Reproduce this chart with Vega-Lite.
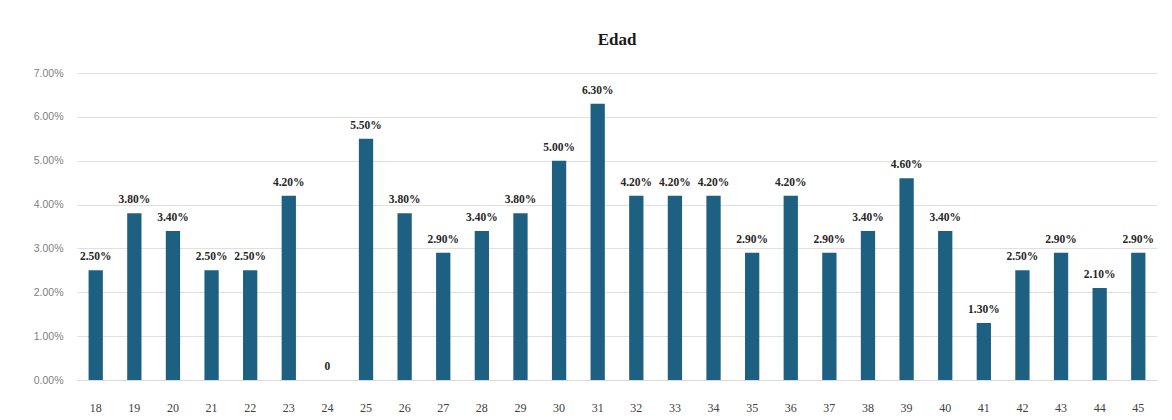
{
  "$schema": "https://vega.github.io/schema/vega-lite/v6.json",
  "autosize": {"type": "none"},
  "padding": {"left": 77, "top": 73, "right": 15, "bottom": 40},
  "width": 1080,
  "height": 307,
  "background": "white",
  "title": {"text": "Edad", "font": "Liberation Serif", "fontSize": 17, "fontWeight": "bold", "color": "#1a1a1a", "offset": 19, "anchor": "middle"},
  "data": {"values": [
    {"edad": "18", "v": 0.025}, {"edad": "19", "v": 0.038}, {"edad": "20", "v": 0.034},
    {"edad": "21", "v": 0.025}, {"edad": "22", "v": 0.025}, {"edad": "23", "v": 0.042},
    {"edad": "24", "v": 0.0}, {"edad": "25", "v": 0.055}, {"edad": "26", "v": 0.038},
    {"edad": "27", "v": 0.029}, {"edad": "28", "v": 0.034}, {"edad": "29", "v": 0.038},
    {"edad": "30", "v": 0.05}, {"edad": "31", "v": 0.063}, {"edad": "32", "v": 0.042},
    {"edad": "33", "v": 0.042}, {"edad": "34", "v": 0.042}, {"edad": "35", "v": 0.029},
    {"edad": "36", "v": 0.042}, {"edad": "37", "v": 0.029}, {"edad": "38", "v": 0.034},
    {"edad": "39", "v": 0.046}, {"edad": "40", "v": 0.034}, {"edad": "41", "v": 0.013},
    {"edad": "42", "v": 0.025}, {"edad": "43", "v": 0.029}, {"edad": "44", "v": 0.021},
    {"edad": "45", "v": 0.029}
  ]},
  "encoding": {
    "x": {"field": "edad", "type": "ordinal", "sort": null,
      "scale": {"paddingInner": 0.63, "paddingOuter": 0.3},
      "axis": {"title": null, "labelAngle": 0, "labelFont": "Liberation Serif", "labelFontSize": 12, "labelColor": "#404040", "labelPadding": 22, "ticks": false, "domain": true, "domainColor": "#d9d9d9", "grid": false}},
    "y": {"field": "v", "type": "quantitative",
      "scale": {"domain": [0, 0.07]},
      "axis": {"title": null, "format": ".2%", "values": [0, 0.01, 0.02, 0.03, 0.04, 0.05, 0.06, 0.07], "labelFont": "Liberation Sans", "labelFontSize": 10.5, "labelColor": "#7f7f7f", "labelPadding": 14, "ticks": false, "domain": false, "grid": true, "gridColor": "#e0e0e0"}}
  },
  "layer": [
    {"mark": {"type": "bar", "color": "#1d6082"}},
    {"mark": {"type": "text", "baseline": "bottom", "dy": -8, "font": "Liberation Serif", "fontSize": 11.5, "fontWeight": "bold", "color": "#262626"},
     "encoding": {"text": {"condition": {"test": "datum.v === 0", "value": "0"}, "field": "v", "format": ".2%"}}}
  ],
  "config": {"view": {"stroke": null}}
}
